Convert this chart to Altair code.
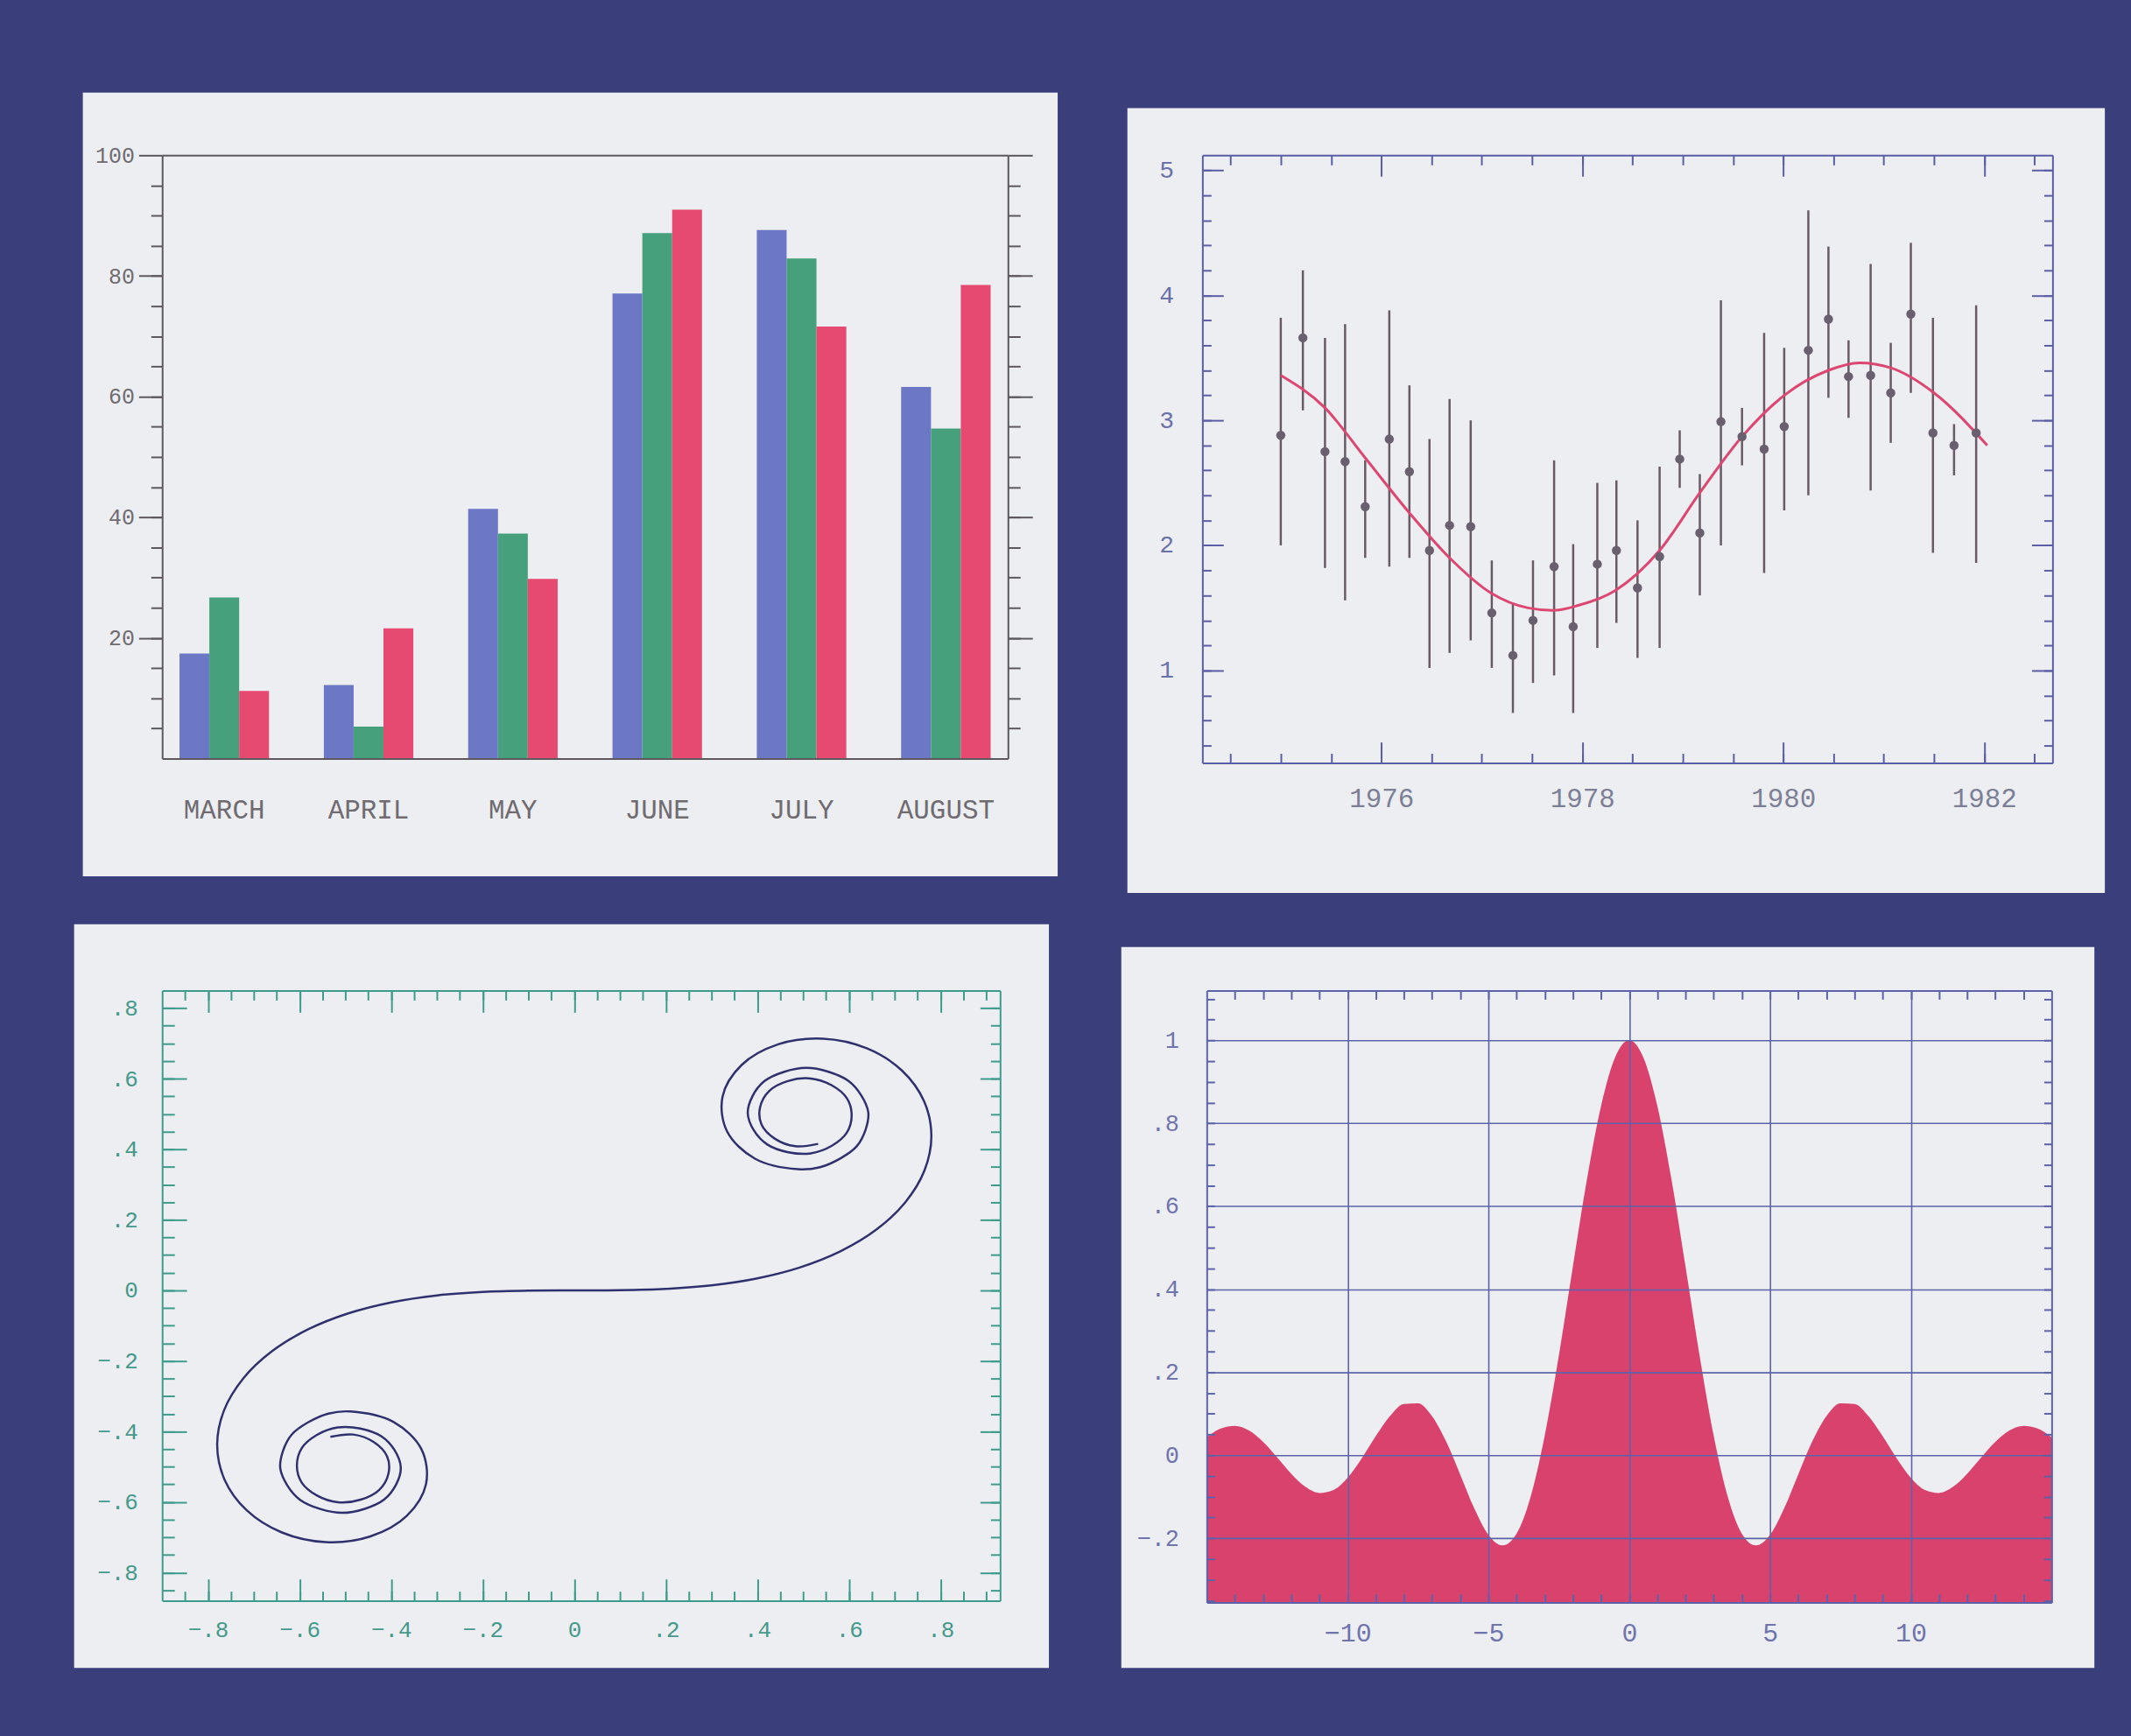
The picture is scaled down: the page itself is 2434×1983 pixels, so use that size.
import altair as alt
import pandas as pd

# ---------------- data ----------------
months = ["MARCH", "APRIL", "MAY", "JUNE", "JULY", "AUGUST"]
series_names = ["A", "B", "C"]
bar_blue = [17.4, 12.2, 41.4, 77.1, 87.6, 61.6]
bar_green = [26.7, 5.3, 37.3, 87.1, 82.9, 54.7]
bar_red = [11.2, 21.6, 29.8, 91.0, 71.6, 78.5]

err_year = [1975.00, 1975.22, 1975.44, 1975.64, 1975.84, 1976.08, 1976.28, 1976.48,
            1976.68, 1976.89, 1977.10, 1977.31, 1977.51, 1977.72, 1977.91, 1978.15,
            1978.34, 1978.55, 1978.77, 1978.97, 1979.17, 1979.38, 1979.59, 1979.81,
            1980.01, 1980.25, 1980.45, 1980.65, 1980.87, 1981.07, 1981.27, 1981.49,
            1981.70, 1981.92]
err_val = [2.88, 3.66, 2.75, 2.67, 2.31, 2.85, 2.59, 1.96, 2.16, 2.15, 1.46, 1.12,
           1.40, 1.83, 1.35, 1.85, 1.96, 1.66, 1.91, 2.69, 2.10, 2.99, 2.87, 2.77,
           2.95, 3.56, 3.81, 3.35, 3.36, 3.22, 3.85, 2.90, 2.80, 2.90]
err_hi = [3.82, 4.20, 3.66, 3.77, 2.68, 3.88, 3.28, 2.85, 3.17, 3.00, 1.88, 1.54,
          1.88, 2.68, 2.01, 2.50, 2.52, 2.20, 2.63, 2.92, 2.57, 3.96, 3.10, 3.70,
          3.58, 4.68, 4.39, 3.64, 4.25, 3.62, 4.42, 3.82, 2.97, 3.92]
err_lo = [2.00, 3.08, 1.82, 1.56, 1.90, 1.83, 1.90, 1.02, 1.14, 1.24, 1.02, 0.66,
          0.90, 0.96, 0.66, 1.18, 1.38, 1.10, 1.18, 2.46, 1.60, 2.00, 2.64, 1.78,
          2.28, 2.40, 3.18, 3.02, 2.44, 2.82, 3.22, 1.94, 2.56, 1.86]

fit_year = [1975.00, 1975.44, 1975.84, 1976.28, 1976.68, 1977.09, 1977.46, 1977.71,
            1977.96, 1978.33, 1978.77, 1979.17, 1979.58, 1980.01, 1980.45, 1980.76,
            1981.07, 1981.50, 1982.03]
fit_val = [3.36, 3.10, 2.70, 2.26, 1.90, 1.62, 1.50, 1.48, 1.52, 1.64, 1.96, 2.42,
           2.86, 3.20, 3.40, 3.46, 3.42, 3.22, 2.80]

spiral_x = [
    -0.5326, -0.4828, -0.4385, -0.4089, -0.4058, -0.4259, -0.4664, -0.5162, -0.5616, -0.5955,
    -0.6058, -0.5951, -0.5626, -0.5166, -0.4675, -0.4217, -0.3925, -0.3789, -0.3890, -0.4156,
    -0.4574, -0.5071, -0.5550, -0.5989, -0.6266, -0.6421, -0.6363, -0.6168, -0.5816, -0.5369,
    -0.4883, -0.3945, -0.3336, -0.3238, -0.3655, -0.4453, -0.5431, -0.6386, -0.7154, -0.7638,
    -0.7799, -0.7648, -0.7228, -0.6597, -0.5811, -0.4923, -0.3975, -0.2994, -0.1999, -0.1000,
    0.0,
    0.1000, 0.1999, 0.2994, 0.3975, 0.4923, 0.5811, 0.6597, 0.7228, 0.7648, 0.7799,
    0.7638, 0.7154, 0.6386, 0.5431, 0.4453, 0.3655, 0.3238, 0.3336, 0.3945, 0.4883,
    0.5369, 0.5816, 0.6168, 0.6363, 0.6421, 0.6266, 0.5989, 0.5550, 0.5071, 0.4574,
    0.4156, 0.3890, 0.3789, 0.3925, 0.4217, 0.4675, 0.5166, 0.5626, 0.5951, 0.6058,
    0.5955, 0.5616, 0.5162, 0.4664, 0.4259, 0.4058, 0.4089, 0.4385, 0.4828, 0.5326,
]
spiral_y = [
    -0.4152, -0.4086, -0.4296, -0.4703, -0.5192, -0.5654, -0.5933, -0.6007, -0.5818, -0.5444,
    -0.4963, -0.4469, -0.4101, -0.3885, -0.3915, -0.4134, -0.4529, -0.5019, -0.5500, -0.5934,
    -0.6192, -0.6307, -0.6197, -0.5937, -0.5531, -0.5044, -0.4557, -0.4084, -0.3743, -0.3492,
    -0.3434, -0.3734, -0.4509, -0.5492, -0.6389, -0.6975, -0.7135, -0.6863, -0.6234, -0.5365,
    -0.4383, -0.3398, -0.2493, -0.1721, -0.1105, -0.0647, -0.0334, -0.0141, -0.0042, -0.0005,
    0.0,
    0.0005, 0.0042, 0.0141, 0.0334, 0.0647, 0.1105, 0.1721, 0.2493, 0.3398, 0.4383,
    0.5365, 0.6234, 0.6863, 0.7135, 0.6975, 0.6389, 0.5492, 0.4509, 0.3734, 0.3434,
    0.3492, 0.3743, 0.4084, 0.4557, 0.5044, 0.5531, 0.5937, 0.6197, 0.6307, 0.6192,
    0.5934, 0.5500, 0.5019, 0.4529, 0.4134, 0.3915, 0.3885, 0.4101, 0.4469, 0.4963,
    0.5444, 0.5818, 0.6007, 0.5933, 0.5654, 0.5192, 0.4703, 0.4296, 0.4086, 0.4152,
]

sinc_x = [-15.0, -14.5, -14.0, -13.5, -13.0, -12.5, -12.0, -11.5, -11.0, -10.5,
          -10.0, -9.5, -9.0, -8.5, -8.0, -7.5, -7.0, -6.5, -6.0, -5.5,
          -5.0, -4.5, -4.0, -3.5, -3.0, -2.5, -2.0, -1.5, -1.0, -0.5,
          0.0,
          0.5, 1.0, 1.5, 2.0, 2.5, 3.0, 3.5, 4.0, 4.5, 5.0,
          5.5, 6.0, 6.5, 7.0, 7.5, 8.0, 8.5, 9.0, 9.5, 10.0,
          10.5, 11.0, 11.5, 12.0, 12.5, 13.0, 13.5, 14.0, 14.5, 15.0]
sinc_y = [0.0434, 0.0645, 0.0708, 0.0595, 0.0323, -0.0053, -0.0447, -0.0761, -0.0909, -0.0838,
          -0.0544, -0.0079, 0.0458, 0.0939, 0.1237, 0.1251, 0.0939, 0.0331, -0.0466, -0.1283,
          -0.1918, -0.2172, -0.1892, -0.1002, 0.0470, 0.2394, 0.4546, 0.6650, 0.8415, 0.9589,
          1.0,
          0.9589, 0.8415, 0.6650, 0.4546, 0.2394, 0.0470, -0.1002, -0.1892, -0.2172, -0.1918,
          -0.1283, -0.0466, 0.0331, 0.0939, 0.1251, 0.1237, 0.0939, 0.0458, -0.0079, -0.0544,
          -0.0838, -0.0909, -0.0761, -0.0447, -0.0053, 0.0323, 0.0595, 0.0708, 0.0645, 0.0434]

# ---------------- style ----------------
BG = "#3a3e7b"
PANEL = "#eceef1"
MONO = "Liberation Mono"

BLUE, GREEN, RED = "#6c78c6", "#46a07c", "#e64a70"
C1, L1 = "#5d585e", "#6f6b70"
C2, L2Y, L2X = "#5b5ea6", "#6a70aa", "#7c7f95"
ERR, PT, FIT = "#6a5a66", "#6a5f6e", "#dc4670"
C3, L3, SPI = "#3f9c8c", "#45998a", "#2f316e"
C4, L4, AREA = "#5d62a9", "#6f74ad", "#d9426c"

ONE = alt.Data(values=[{"k": 0}])


def backdrop(W, H, left, right, top, bottom):
    return alt.Chart(ONE).mark_rect(color=PANEL).encode(
        x=alt.value(-left), x2=alt.value(W + right),
        y=alt.value(-top), y2=alt.value(H + bottom))


def axis(orient, color, values=None, tick=0, inward=False, labels=False, domain=False,
         grid=False, label_color=None, font_size=26, label_padding=6, label_expr=None, fmt=None):
    kw = dict(orient=orient, title=None, zindex=1, grid=grid, labels=labels, domain=domain,
              domainColor=color, domainWidth=2, tickColor=color, tickWidth=2)
    if tick:
        kw["ticks"] = True
        kw["tickSize"] = tick
        if inward:
            kw["offset"] = -tick
    else:
        kw["ticks"] = False
    if values is not None:
        kw["values"] = values
    if labels:
        kw.update(labelFont=MONO, labelFontSize=font_size, labelColor=label_color or color,
                  labelPadding=label_padding, labelAngle=0, labelOverlap=False, labelFlush=False)
        if label_expr:
            kw["labelExpr"] = label_expr
        if fmt:
            kw["format"] = fmt
    if grid:
        kw.update(gridColor=color, gridWidth=1.6, gridOpacity=1)
    return alt.Axis(**kw)


def carrier(data, xf, yf, xscale, yscale, xaxis, yaxis, xtype="quantitative"):
    return alt.Chart(data).mark_point(opacity=0).encode(
        x=alt.X(xf, type=xtype, scale=xscale, axis=xaxis),
        y=alt.Y(yf, type="quantitative", scale=yscale, axis=yaxis),
    )


# ---------------- panel 1 : grouped bars ----------------
W1, H1 = 970, 692
bars_df = pd.DataFrame({
    "month": months * 3,
    "series": [s for s in series_names for _ in months],
    "value": bar_blue + bar_green + bar_red,
})
xs1 = alt.Scale(domain=months, paddingInner=0.38, paddingOuter=0.12)
ys1 = alt.Scale(domain=[0, 100], nice=False, zero=False)
maj20 = [20, 40, 60, 80, 100]
min5 = [5 * i for i in range(1, 20)]

bars = alt.Chart(bars_df).mark_bar().encode(
    x=alt.X("month:N", scale=xs1,
            axis=axis("bottom", C1, labels=True, domain=True, label_color=L1,
                      font_size=31, label_padding=44)),
    xOffset=alt.XOffset("series:N", scale=alt.Scale(domain=series_names, paddingInner=0, paddingOuter=0)),
    y=alt.Y("value:Q", scale=ys1,
            axis=axis("left", C1, values=maj20, tick=27, labels=True, domain=True,
                      label_color=L1, font_size=25, label_padding=5)),
    color=alt.Color("series:N", scale=alt.Scale(domain=series_names, range=[BLUE, GREEN, RED]), legend=None),
)
p1 = alt.layer(
    backdrop(W1, H1, 91, 57, 72, 135),
    bars,
    carrier(bars_df, "month", "value", xs1, ys1, axis("top", C1, domain=True),
            axis("right", C1, values=maj20, tick=28, domain=True), xtype="nominal"),
    carrier(bars_df, "month", "value", xs1, ys1, None, axis("left", C1, values=min5, tick=13), xtype="nominal"),
    carrier(bars_df, "month", "value", xs1, ys1, None, axis("right", C1, values=min5, tick=14), xtype="nominal"),
).resolve_axis(x="independent", y="independent").properties(width=W1, height=H1)

# ---------------- panel 2 : error bars + fit ----------------
W2, H2 = 975, 697
err_df = pd.DataFrame({"year": err_year, "val": err_val, "lo": err_lo, "hi": err_hi})
fit_df = pd.DataFrame({"year": fit_year, "val": fit_val})
xs2 = alt.Scale(domain=[1974.22, 1982.68], nice=False, zero=False)
ys2 = alt.Scale(domain=[0.26, 5.12], nice=False, zero=False)
x2_min = [round(1974.5 + 0.5 * i, 2) for i in range(17)]
x2_maj = [1976, 1978, 1980, 1982]
y2_min = [round(0.4 + 0.2 * i, 2) for i in range(24)]
y2_maj = [1, 2, 3, 4, 5]

rules = alt.Chart(err_df).mark_rule(color=ERR, strokeWidth=2.5).encode(
    x=alt.X("year:Q", scale=xs2,
            axis=axis("bottom", C2, values=x2_maj, labels=True, domain=True, label_color=L2X,
                      font_size=31, label_padding=26, fmt="d")),
    y=alt.Y("lo:Q", scale=ys2,
            axis=axis("left", C2, values=y2_maj, labels=True, domain=True, label_color=L2Y,
                      font_size=28, label_padding=33, fmt="d")),
    y2="hi:Q",
)
pts = alt.Chart(err_df).mark_circle(size=110, color=PT, opacity=1).encode(
    x=alt.X("year:Q", scale=xs2, axis=axis("top", C2, domain=True)),
    y=alt.Y("val:Q", scale=ys2, axis=axis("right", C2, domain=True)),
)
fit = alt.Chart(fit_df).mark_line(color=FIT, strokeWidth=3, interpolate="monotone").encode(
    x=alt.X("year:Q", scale=xs2, axis=None),
    y=alt.Y("val:Q", scale=ys2, axis=None),
)
p2 = alt.layer(
    backdrop(W2, H2, 86, 60, 54, 149),
    rules, fit, pts,
    carrier(err_df, "year", "val", xs2, ys2,
            axis("bottom", C2, values=x2_min, tick=11, inward=True),
            axis("left", C2, values=y2_min, tick=10, inward=True)),
    carrier(err_df, "year", "val", xs2, ys2,
            axis("top", C2, values=x2_min, tick=11, inward=True),
            axis("right", C2, values=y2_min, tick=10, inward=True)),
    carrier(err_df, "year", "val", xs2, ys2,
            axis("bottom", C2, values=x2_maj, tick=24, inward=True),
            axis("left", C2, values=y2_maj, tick=24, inward=True)),
    carrier(err_df, "year", "val", xs2, ys2,
            axis("top", C2, values=x2_maj, tick=24, inward=True),
            axis("right", C2, values=y2_maj, tick=24, inward=True)),
).resolve_axis(x="independent", y="independent").properties(width=W2, height=H2)

# ---------------- panel 3 : double spiral ----------------
W3, H3 = 961, 700
spiral_df = pd.DataFrame({"i": list(range(len(spiral_x))), "sx": spiral_x, "sy": spiral_y})
xs3 = alt.Scale(domain=[-0.9, 0.93], nice=False, zero=False)
ys3 = alt.Scale(domain=[-0.88, 0.85], nice=False, zero=False)
x3_min = [round(-0.85 + 0.05 * i, 2) for i in range(36)]
y3_min = [round(-0.85 + 0.05 * i, 2) for i in range(34)]
p3_maj = [-0.8, -0.6, -0.4, -0.2, 0.0, 0.2, 0.4, 0.6, 0.8]
frac_expr = "abs(datum.value) < 1e-6 ? '0' : replace(format(datum.value, '.1f'), '0.', '.')"

spiral = alt.Chart(spiral_df).mark_line(color=SPI, strokeWidth=2.5, interpolate="catmull-rom").encode(
    x=alt.X("sx:Q", scale=xs3,
            axis=axis("bottom", C3, values=p3_maj, labels=True, domain=True, label_color=L3,
                      font_size=26, label_padding=20, label_expr=frac_expr)),
    y=alt.Y("sy:Q", scale=ys3,
            axis=axis("left", C3, values=p3_maj, labels=True, domain=True, label_color=L3,
                      font_size=26, label_padding=28, label_expr=frac_expr)),
    order="i:Q",
)
p3 = alt.layer(
    backdrop(W3, H3, 101, 56, 76, 77),
    spiral,
    carrier(spiral_df, "sx", "sy", xs3, ys3, axis("top", C3, domain=True), axis("right", C3, domain=True)),
    carrier(spiral_df, "sx", "sy", xs3, ys3,
            axis("bottom", C3, values=x3_min, tick=11, inward=True),
            axis("left", C3, values=y3_min, tick=14, inward=True)),
    carrier(spiral_df, "sx", "sy", xs3, ys3,
            axis("top", C3, values=x3_min, tick=11, inward=True),
            axis("right", C3, values=y3_min, tick=11, inward=True)),
    carrier(spiral_df, "sx", "sy", xs3, ys3,
            axis("bottom", C3, values=p3_maj, tick=25, inward=True),
            axis("left", C3, values=p3_maj, tick=28, inward=True)),
    carrier(spiral_df, "sx", "sy", xs3, ys3,
            axis("top", C3, values=p3_maj, tick=25, inward=True),
            axis("right", C3, values=p3_maj, tick=23, inward=True)),
).resolve_axis(x="independent", y="independent").properties(width=W3, height=H3)

# ---------------- panel 4 : filled sinc ----------------
W4, H4 = 969, 702
Y4_MIN = -0.355
sinc_df = pd.DataFrame({"sx": sinc_x, "sy": sinc_y})
xs4 = alt.Scale(domain=[-15, 15], nice=False, zero=False)
ys4 = alt.Scale(domain=[Y4_MIN, 1.12], nice=False, zero=False)
x4_grid = [-10, -5, 0, 5, 10]
y4_grid = [-0.2, 0.0, 0.2, 0.4, 0.6, 0.8, 1.0]
x4_min = list(range(-14, 15))
y4_min = [round(-0.35 + 0.05 * i, 2) for i in range(30)]
y4_expr = ("abs(datum.value) < 1e-6 ? '0' : (abs(datum.value - 1) < 1e-6 ? '1' : "
           "replace(format(datum.value, '.1f'), '0.', '.'))")

area = alt.Chart(sinc_df).mark_area(color=AREA, opacity=1, interpolate="monotone").encode(
    x=alt.X("sx:Q", scale=xs4,
            axis=axis("bottom", C4, values=x4_grid, labels=True, domain=True, grid=True,
                      label_color=L4, font_size=30, label_padding=20, fmt="d")),
    y=alt.Y("sy:Q", scale=ys4,
            axis=axis("left", C4, values=y4_grid, labels=True, domain=True, grid=True,
                      label_color=L4, font_size=27, label_padding=32, label_expr=y4_expr)),
    y2=alt.datum(Y4_MIN),
)
p4 = alt.layer(
    backdrop(W4, H4, 98, 49, 50, 75),
    area,
    carrier(sinc_df, "sx", "sy", xs4, ys4, axis("top", C4, domain=True), axis("right", C4, domain=True)),
    carrier(sinc_df, "sx", "sy", xs4, ys4,
            axis("bottom", C4, values=x4_min, tick=10, inward=True),
            axis("left", C4, values=y4_min, tick=9, inward=True)),
    carrier(sinc_df, "sx", "sy", xs4, ys4,
            axis("top", C4, values=x4_min, tick=10, inward=True),
            axis("right", C4, values=y4_min, tick=9, inward=True)),
).resolve_axis(x="independent", y="independent").properties(width=W4, height=H4)

# ---------------- assemble ----------------
row1 = alt.hconcat(p1, p2, spacing=80)
row2 = alt.hconcat(p3, p4, spacing=83)
chart = alt.vconcat(row1, row2, spacing=36).properties(
    background=BG,
    padding={"left": 85, "top": 102, "right": 30, "bottom": 80},
).configure_view(strokeWidth=0)

chart.save("out.html", embed_options={"renderer": "svg", "actions": False})
